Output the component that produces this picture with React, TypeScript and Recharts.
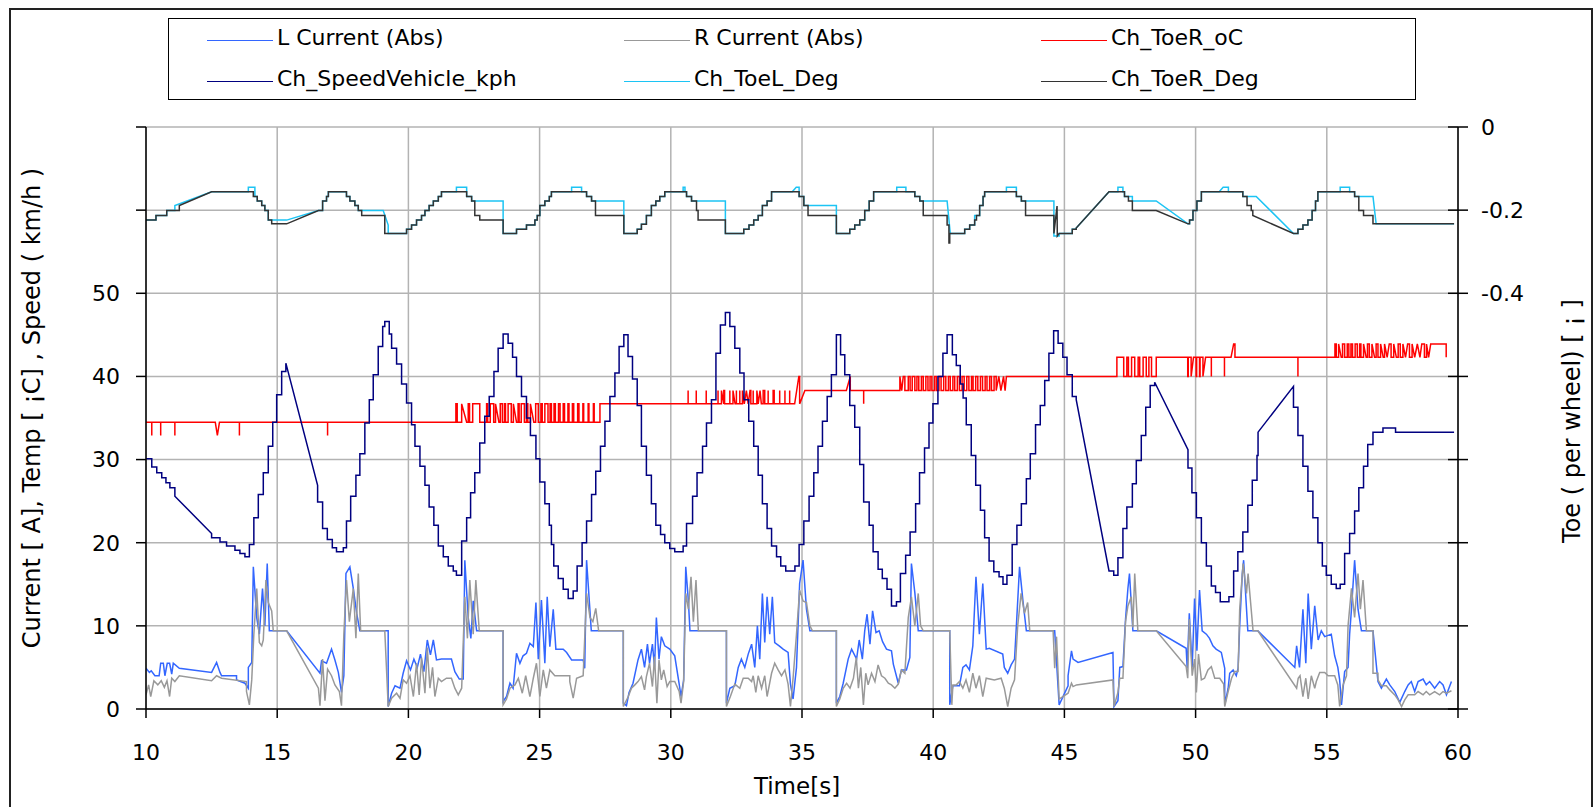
import React from 'react';
import { LineChart, Line, XAxis, YAxis, CartesianGrid, Legend } from 'recharts';

const FONT = "'DejaVu Sans', Verdana, sans-serif";

// axis ticks
const timeTicks = [10, 15, 20, 25, 30, 35, 40, 45, 50, 55, 60];
const leftTicks = [0, 10, 20, 30, 40, 50, 60, 70];
const rightTicks = [-1.4, -1.2, -1, -0.8, -0.6, -0.4, -0.2, 0];

// [t, value] = value steps at t ; [t, value, 1] = straight line up to (t, value)
const speedSteps = [
  [10.0, 30.1], [10.22, 29.1], [10.41, 28.4], [10.6, 27.8], [10.76, 27.2], [10.91, 26.6], [11.1, 25.6], [12.5, 21.1, 1],
  [12.5, 20.6], [12.82, 20.1], [13.07, 19.6], [13.39, 19.1], [13.58, 18.7], [13.77, 18.3], [13.94, 19.8], [14.11, 23.0],
  [14.28, 25.8], [14.47, 28.4], [14.66, 31.6], [14.83, 34.5], [14.98, 37.8], [15.17, 40.6], [15.33, 41.6], [16.54, 26.9, 1],
  [16.54, 24.9], [16.73, 21.7], [16.91, 20.4], [17.1, 19.4], [17.26, 18.9], [17.52, 19.4], [17.64, 22.6], [17.8, 25.6],
  [18.0, 28.1], [18.15, 30.7], [18.34, 34.4], [18.51, 37.2], [18.66, 40.2], [18.85, 43.6], [19.02, 46.0], [19.1, 46.6],
  [19.27, 45.1], [19.36, 43.4], [19.55, 41.5], [19.74, 39.1], [19.93, 36.8], [20.12, 34.2], [20.25, 31.6], [20.44, 29.2],
  [20.63, 26.9], [20.79, 24.3], [20.97, 22.1], [21.14, 19.6], [21.33, 18.3], [21.52, 17.2], [21.71, 16.6], [21.83, 16.1],
  [22.03, 20.2], [22.22, 23.0], [22.37, 26.0], [22.53, 28.4], [22.72, 32.0], [22.91, 35.2], [23.08, 37.6], [23.26, 40.6],
  [23.42, 43.4], [23.61, 45.1], [23.8, 44.0], [23.97, 42.3], [24.12, 40.0], [24.31, 37.6], [24.5, 35.0], [24.65, 32.9],
  [24.86, 30.1], [25.01, 27.3], [25.2, 24.7], [25.37, 22.1], [25.45, 19.8], [25.54, 17.2], [25.71, 15.7], [25.9, 14.4],
  [26.09, 13.3], [26.28, 14.2], [26.43, 17.2], [26.62, 20.0], [26.79, 22.6], [26.98, 25.8], [27.14, 28.6], [27.32, 31.6],
  [27.49, 34.6], [27.68, 37.6], [27.87, 40.4], [28.03, 43.6], [28.21, 45.0], [28.37, 42.4], [28.54, 39.7], [28.72, 36.5],
  [28.88, 31.6], [29.07, 28.1], [29.26, 24.7], [29.43, 22.1], [29.61, 21.0], [29.77, 20.0], [29.96, 19.3], [30.15, 18.9],
  [30.47, 19.6], [30.6, 22.3], [30.83, 25.6], [31.0, 28.4], [31.21, 31.6], [31.36, 34.4], [31.55, 37.2], [31.72, 42.8],
  [31.89, 46.2], [32.08, 47.7], [32.25, 46.0], [32.44, 43.4], [32.63, 40.4], [32.79, 37.2], [32.97, 34.6], [33.16, 31.6],
  [33.33, 28.1], [33.49, 24.7], [33.67, 21.7], [33.84, 19.6], [34.03, 18.3], [34.19, 17.2], [34.38, 16.6], [34.73, 17.2],
  [34.89, 19.8], [35.07, 22.6], [35.27, 25.6], [35.45, 28.4], [35.61, 31.6], [35.78, 34.6], [35.96, 37.6], [36.12, 40.2],
  [36.31, 45.0], [36.47, 42.6], [36.63, 40.2], [36.82, 36.5], [37.01, 33.9], [37.2, 29.4], [37.35, 24.9], [37.56, 22.1],
  [37.71, 18.9], [37.9, 16.8], [38.06, 15.7], [38.24, 14.4], [38.41, 12.4], [38.6, 12.9], [38.75, 16.3], [38.95, 18.5],
  [39.12, 21.3], [39.33, 24.7], [39.48, 28.4], [39.67, 31.4], [39.84, 34.4], [39.99, 36.7], [40.18, 40.0], [40.37, 42.8],
  [40.53, 45.0], [40.73, 42.6], [40.88, 41.3], [41.03, 39.1], [41.14, 37.4], [41.26, 34.2], [41.45, 30.5], [41.62, 26.9],
  [41.8, 23.9], [41.96, 20.6], [42.13, 17.8], [42.31, 16.5], [42.51, 15.9], [42.66, 15.0], [42.81, 16.1], [43.01, 19.8],
  [43.19, 22.1], [43.36, 24.7], [43.55, 27.7], [43.7, 30.7], [43.9, 34.2], [44.08, 36.5], [44.25, 39.5], [44.41, 42.8],
  [44.59, 45.5], [44.76, 44.0], [44.94, 42.3], [45.1, 40.2], [45.3, 37.6], [45.45, 37.2], [46.7, 16.6, 1], [46.88, 16.1],
  [47.04, 18.2], [47.23, 21.7], [47.38, 24.3], [47.59, 27.1], [47.74, 29.9], [47.93, 32.9], [48.1, 36.3], [48.27, 38.9],
  [48.44, 39.3], [49.71, 31.2, 1], [49.71, 29.0], [49.86, 26.0], [50.03, 23.0], [50.22, 20.0], [50.41, 17.2], [50.6, 14.8],
  [50.76, 14.0], [50.94, 12.9], [51.27, 13.5], [51.45, 16.6], [51.61, 18.9], [51.8, 21.3], [51.99, 24.5], [52.16, 27.5],
  [52.34, 30.5], [52.38, 33.3], [53.73, 38.8, 1], [53.73, 36.3], [53.9, 32.9], [54.09, 29.2], [54.28, 26.2], [54.47, 23.0],
  [54.66, 20.0], [54.83, 17.2], [54.98, 16.1], [55.17, 15.0], [55.36, 14.5], [55.51, 15.0], [55.68, 18.7], [55.87, 21.1],
  [56.06, 23.8], [56.22, 26.6], [56.4, 29.2], [56.56, 31.8], [56.76, 33.3], [57.14, 33.8], [57.62, 33.3], [59.85, 33.3],
];

const toeRSteps = [
  [10.0, -0.224], [10.38, -0.213], [10.79, -0.201], [11.27, -0.189], [12.5, -0.156, 1], [14.09, -0.167], [14.24, -0.178],
  [14.41, -0.189], [14.53, -0.201], [14.66, -0.224], [14.79, -0.233], [15.36, -0.233], [16.57, -0.201, 1], [16.73, -0.178],
  [16.88, -0.167], [16.95, -0.156], [17.64, -0.167], [17.77, -0.178], [17.96, -0.189], [18.09, -0.201], [18.22, -0.213],
  [19.1, -0.256], [19.93, -0.246], [20.12, -0.236], [20.31, -0.224], [20.5, -0.213], [20.63, -0.201], [20.79, -0.189],
  [20.95, -0.178], [21.14, -0.167], [21.26, -0.156], [22.22, -0.167], [22.41, -0.178], [22.53, -0.213], [22.72, -0.224],
  [23.61, -0.256], [24.12, -0.246], [24.5, -0.236], [24.82, -0.224], [24.91, -0.213], [25.01, -0.189], [25.2, -0.178],
  [25.37, -0.167], [25.45, -0.156], [26.79, -0.167], [26.98, -0.178], [27.13, -0.213], [28.21, -0.256], [28.72, -0.246],
  [28.88, -0.234], [29.07, -0.213], [29.26, -0.189], [29.43, -0.178], [29.58, -0.167], [29.77, -0.156], [30.6, -0.167],
  [30.79, -0.178], [30.98, -0.201], [31.04, -0.224], [32.08, -0.256], [32.78, -0.246], [32.98, -0.236], [33.16, -0.224],
  [33.33, -0.213], [33.49, -0.189], [33.67, -0.178], [33.84, -0.156], [34.89, -0.167], [35.07, -0.189], [35.23, -0.213],
  [36.31, -0.256], [36.82, -0.246], [37.01, -0.236], [37.2, -0.224], [37.39, -0.201], [37.56, -0.178], [37.73, -0.156],
  [39.3, -0.167], [39.49, -0.178], [39.62, -0.213], [40.53, -0.236], [40.6, -0.279], [40.63, -0.256], [41.2, -0.246],
  [41.39, -0.236], [41.58, -0.224], [41.65, -0.213], [41.77, -0.189], [41.9, -0.167], [41.96, -0.156], [43.17, -0.167],
  [43.36, -0.178], [43.52, -0.213], [44.6, -0.256], [44.72, -0.19, 1], [44.73, -0.262, 1], [44.8, -0.256, 1], [45.3, -0.246],
  [45.45, -0.243], [46.7, -0.156, 1], [47.29, -0.167], [47.44, -0.178], [47.59, -0.201], [48.5, -0.201], [49.71, -0.233, 1],
  [49.77, -0.224], [49.9, -0.201], [50.05, -0.178], [50.22, -0.156], [51.8, -0.167], [51.96, -0.189], [52.12, -0.201],
  [52.18, -0.213], [53.73, -0.256, 1], [53.9, -0.246], [54.09, -0.236], [54.28, -0.224], [54.44, -0.201], [54.57, -0.178],
  [54.66, -0.156], [56.06, -0.167], [56.22, -0.201], [56.4, -0.213], [56.76, -0.233], [59.85, -0.233],
];

const toeLSteps = [
  [10.0, -0.224], [10.38, -0.213], [10.79, -0.201], [11.1, -0.189], [12.5, -0.156, 1], [13.9, -0.145], [14.15, -0.167],
  [14.24, -0.178], [14.41, -0.189], [14.53, -0.201], [14.66, -0.224], [15.36, -0.224], [16.57, -0.201, 1], [16.73, -0.178],
  [16.88, -0.167], [16.95, -0.156], [17.64, -0.167], [17.77, -0.178], [17.96, -0.189], [18.09, -0.201], [19.04, -0.201],
  [19.23, -0.236, 1], [19.23, -0.256], [19.93, -0.246], [20.12, -0.236], [20.31, -0.224], [20.5, -0.213], [20.63, -0.201],
  [20.79, -0.189], [20.95, -0.178], [21.14, -0.167], [21.26, -0.156], [21.83, -0.145], [22.22, -0.167], [22.41, -0.178],
  [23.61, -0.256], [24.12, -0.246], [24.5, -0.236], [24.82, -0.224], [24.91, -0.213], [25.01, -0.189], [25.2, -0.178],
  [25.37, -0.167], [25.45, -0.156], [26.22, -0.145], [26.6, -0.156], [26.79, -0.167], [26.98, -0.178], [28.21, -0.256],
  [28.72, -0.246], [28.88, -0.234], [29.07, -0.213], [29.26, -0.189], [29.43, -0.178], [29.58, -0.167], [29.77, -0.156],
  [30.47, -0.145], [30.54, -0.156], [30.6, -0.167], [30.79, -0.178], [32.08, -0.256], [32.78, -0.246], [32.98, -0.236],
  [33.16, -0.224], [33.33, -0.213], [33.49, -0.189], [33.67, -0.178], [33.84, -0.156], [34.63, -0.156], [34.78, -0.145, 1],
  [34.89, -0.167], [35.07, -0.189], [36.31, -0.256], [36.82, -0.246], [37.01, -0.236], [37.2, -0.224], [37.39, -0.201],
  [37.56, -0.178], [37.73, -0.156], [38.61, -0.145], [38.96, -0.156], [39.3, -0.167], [39.49, -0.178], [40.53, -0.178],
  [40.65, -0.256, 1], [41.2, -0.246], [41.39, -0.236], [41.58, -0.213], [41.77, -0.189], [41.9, -0.167], [41.96, -0.156],
  [42.79, -0.145], [43.17, -0.167], [43.36, -0.178], [44.6, -0.262], [44.8, -0.256], [45.3, -0.246], [45.45, -0.243],
  [46.7, -0.156, 1], [47.04, -0.145], [47.23, -0.156], [47.29, -0.167], [47.59, -0.178], [48.5, -0.178], [49.71, -0.233, 1],
  [49.77, -0.224], [49.9, -0.201], [50.05, -0.178], [50.22, -0.156], [50.9, -0.156], [51.05, -0.145, 1], [51.25, -0.156],
  [51.8, -0.167], [52.31, -0.167], [53.73, -0.256, 1], [53.9, -0.246], [54.09, -0.236], [54.28, -0.224], [54.44, -0.201],
  [54.57, -0.178], [54.66, -0.156], [55.51, -0.145], [55.87, -0.156], [56.06, -0.167], [56.76, -0.167], [56.88, -0.233, 1],
  [59.85, -0.233],
];

const tempSteps = [
  [10.0, 34.5], [10.22, 32.9], [10.22, 34.5], [10.56, 32.9], [10.56, 34.5], [11.1, 32.9], [11.1, 34.5], [12.64, 34.5],
  [12.72, 32.9, 1], [12.8, 34.5, 1], [13.56, 32.9], [13.56, 34.5], [16.92, 32.9], [16.92, 34.5],
  [21.81, 36.7], [21.86, 34.5], [22.03, 36.7], [22.22, 34.5, 1], [22.28, 36.7], [22.33, 34.5], [22.45, 36.7], [22.72, 34.5],
  [22.98, 36.7], [23.02, 34.5], [23.12, 36.7], [23.25, 34.5], [23.32, 36.7], [23.45, 34.5, 1], [23.5, 36.7], [23.58, 34.5],
  [23.66, 36.7], [23.7, 34.5], [23.8, 36.7], [23.92, 34.5], [24.0, 36.7], [24.12, 34.5, 1], [24.18, 36.7], [24.22, 34.5],
  [24.3, 36.7], [24.42, 34.5], [24.5, 36.7], [24.55, 34.5], [24.65, 36.7], [24.78, 34.5, 1], [24.85, 36.7], [24.95, 34.5],
  [25.05, 36.7], [25.1, 34.5], [25.2, 36.7], [25.32, 34.5], [25.4, 36.7], [25.45, 34.5], [25.55, 36.7], [25.6, 34.5],
  [25.72, 36.7], [25.78, 34.5], [25.9, 36.7], [25.95, 34.5], [26.08, 36.7], [26.12, 34.5], [26.25, 36.7], [26.3, 34.5],
  [26.45, 36.7], [26.5, 34.5], [26.65, 36.7], [26.68, 34.5], [26.85, 36.7], [26.88, 34.5], [27.05, 36.7], [27.08, 34.5],
  [27.3, 36.7],
  [30.66, 38.3], [30.66, 36.7], [30.97, 38.3], [30.97, 36.7], [31.35, 38.3], [31.35, 36.7], [31.8, 38.3], [31.8, 36.7],
  [31.93, 38.3], [32.02, 36.7, 1], [32.02, 38.3], [32.05, 36.7], [32.25, 38.3], [32.25, 36.7], [32.37, 38.3], [32.45, 36.7, 1],
  [32.5, 38.3], [32.5, 36.7], [32.63, 38.3], [32.63, 36.7], [32.73, 38.3], [32.8, 36.7, 1], [32.88, 38.3, 1], [32.95, 36.7, 1],
  [33.02, 38.3, 1], [33.05, 36.7], [33.14, 38.3], [33.14, 36.7], [33.28, 38.3], [33.33, 36.7, 1], [33.4, 38.3, 1],
  [33.45, 36.7, 1], [33.52, 38.3], [33.58, 36.7], [33.71, 38.3], [33.71, 36.7], [33.9, 38.3], [33.94, 36.7], [34.15, 38.3],
  [34.15, 36.7], [34.35, 38.3], [34.35, 36.7], [34.53, 38.3], [34.53, 36.7], [34.72, 36.7], [34.88, 40.0, 1], [34.91, 36.7],
  [35.11, 38.3, 1],
  [36.69, 38.3], [36.84, 40.0, 1], [36.84, 38.3], [37.35, 36.7], [37.35, 38.3],
  [38.73, 40.0], [38.8, 38.3, 1], [38.86, 40.0, 1], [38.92, 38.3], [39.05, 40.0], [39.12, 38.3], [39.2, 40.0], [39.3, 38.3],
  [39.38, 40.0], [39.45, 38.3], [39.55, 40.0], [39.62, 38.3], [39.72, 40.0], [39.8, 38.3], [39.88, 40.0], [39.95, 38.3],
  [40.05, 40.0], [40.12, 38.3], [40.22, 40.0], [40.3, 38.3], [40.4, 40.0], [40.48, 38.3], [40.58, 40.0], [40.65, 38.3],
  [40.75, 40.0], [40.82, 38.3], [40.92, 40.0], [41.0, 38.3], [41.1, 40.0], [41.18, 38.3], [41.28, 40.0], [41.36, 38.3],
  [41.46, 40.0], [41.52, 38.3], [41.62, 40.0], [41.7, 38.3], [41.8, 40.0], [41.88, 38.3], [41.98, 40.0], [42.05, 38.3],
  [42.15, 40.0], [42.22, 38.3], [42.32, 40.0], [42.4, 38.3], [42.5, 40.0, 1], [42.58, 38.3, 1], [42.68, 40.0, 1],
  [42.74, 38.3, 1], [42.79, 40.0, 1],
  [47.0, 42.3], [47.26, 40.0], [47.38, 42.3], [47.44, 40.0], [47.56, 42.3], [47.68, 40.0], [47.81, 42.3], [47.87, 40.0],
  [48.0, 42.3], [48.12, 40.0], [48.22, 42.3], [48.32, 40.0], [48.5, 42.3],
  [49.7, 40.0], [49.72, 42.3], [49.83, 40.0], [49.92, 42.3, 1], [50.02, 40.0], [50.04, 42.3], [50.15, 40.0], [50.17, 42.3],
  [50.28, 40.0], [50.38, 42.3, 1], [50.6, 40.0], [50.6, 42.3], [51.1, 40.0], [51.1, 42.3], [51.35, 42.3], [51.45, 43.9, 1],
  [51.5, 42.3], [53.9, 40.0], [53.9, 42.3],
  [55.31, 43.9], [55.36, 42.3], [55.45, 43.9], [55.55, 42.3, 1], [55.6, 43.9], [55.68, 42.3], [55.78, 43.9], [55.84, 42.3],
  [55.92, 43.9], [55.98, 42.3], [56.08, 43.9], [56.16, 42.3], [56.25, 43.9], [56.3, 42.3], [56.4, 43.9], [56.5, 42.3, 1],
  [56.55, 43.9], [56.62, 42.3], [56.72, 43.9], [56.82, 42.3, 1], [56.88, 43.9], [56.95, 42.3], [57.05, 43.9], [57.15, 42.3, 1],
  [57.2, 43.9], [57.3, 42.3, 1], [57.38, 43.9, 1], [57.45, 42.3], [57.55, 43.9], [57.65, 42.3, 1], [57.72, 43.9], [57.8, 42.3],
  [57.9, 43.9], [58.0, 42.3, 1], [58.08, 43.9, 1], [58.15, 42.3], [58.25, 43.9], [58.35, 42.3, 1], [58.45, 43.9, 1],
  [58.55, 42.3, 1], [58.62, 43.9, 1], [58.72, 42.3], [58.8, 43.9], [58.88, 42.3, 1], [58.96, 43.9, 1], [59.55, 42.3],
];

// currents: vertices joined by straight lines
const curL = [
  [10.0, 4.9], [10.13, 4.4], [10.2, 4.6], [10.34, 4.0], [10.5, 4.0], [10.56, 5.5], [10.66, 5.5], [10.72, 4.0], [10.81, 5.5],
  [10.9, 5.5], [10.98, 4.2], [11.04, 5.5], [11.27, 4.9], [12.5, 4.4], [12.69, 5.6], [12.82, 4.4], [12.88, 4.0], [13.45, 4.0],
  [13.45, 3.5], [13.77, 3.1], [13.9, 2.5], [13.9, 5.0], [14.03, 5.6], [14.09, 17.1], [14.22, 11.0], [14.32, 9.0],
  [14.44, 14.5], [14.53, 10.0], [14.62, 17.5], [14.7, 9.4], [15.36, 9.4], [16.63, 4.3], [16.69, 5.8], [16.88, 5.5],
  [17.07, 7.2], [17.2, 5.9], [17.33, 4.4], [17.45, 2.0], [17.54, 4.0], [17.62, 16.3], [17.77, 17.1], [17.9, 14.5],
  [18.03, 11.5], [18.15, 9.4], [19.23, 9.4], [19.23, 0.3], [19.36, 1.9], [19.49, 2.8], [19.68, 2.5], [19.8, 4.3],
  [19.93, 5.8], [20.08, 4.7], [20.21, 6.0], [20.34, 5.0], [20.46, 6.6], [20.59, 4.5], [20.72, 8.3], [20.84, 6.5],
  [20.95, 8.3], [21.07, 5.9], [21.26, 6.0], [21.64, 6.0], [21.77, 4.5], [21.94, 3.6], [22.09, 3.6], [22.15, 17.9],
  [22.28, 11.0], [22.38, 8.5], [22.47, 13.0], [22.6, 9.4], [23.61, 9.4], [23.61, 0.9], [23.74, 1.5], [23.87, 3.1],
  [23.99, 2.5], [24.12, 6.7], [24.25, 5.5], [24.37, 6.4], [24.5, 6.7], [24.63, 7.9], [24.76, 7.5], [24.86, 12.8],
  [24.95, 6.0], [25.07, 13.1], [25.2, 5.5], [25.29, 13.5], [25.39, 7.5], [25.52, 12.0], [25.62, 7.2], [25.9, 7.2],
  [26.03, 6.8], [26.22, 5.9], [26.66, 5.9], [26.72, 4.9], [26.79, 17.9], [26.85, 15.1], [26.97, 9.4], [28.19, 9.4],
  [28.19, 0.7], [28.31, 0.4], [28.41, 2.0], [28.56, 3.1], [28.75, 5.9], [28.88, 7.2], [29.0, 5.0], [29.11, 7.8],
  [29.19, 5.5], [29.3, 7.8], [29.38, 5.1], [29.45, 11.0], [29.55, 6.0], [29.64, 8.7], [29.77, 7.6], [29.96, 7.2],
  [30.15, 6.4], [30.32, 3.0], [30.39, 1.5], [30.49, 3.5], [30.57, 17.1], [30.67, 13.0], [30.73, 9.4], [32.12, 9.4],
  [32.12, 0.7], [32.25, 2.5], [32.44, 2.8], [32.57, 5.0], [32.69, 6.0], [32.82, 5.0], [32.95, 6.6], [33.08, 7.8],
  [33.2, 5.0], [33.3, 10.0], [33.39, 6.0], [33.49, 13.9], [33.58, 8.0], [33.67, 13.5], [33.77, 9.0], [33.87, 13.5],
  [33.96, 8.0], [34.13, 7.6], [34.28, 7.2], [34.47, 6.8], [34.56, 3.0], [34.66, 1.2], [34.79, 5.0], [34.91, 15.1],
  [35.04, 17.9], [35.17, 12.0], [35.3, 9.4], [36.31, 9.4], [36.31, 0.7], [36.44, 1.5], [36.57, 3.1], [36.76, 6.0],
  [36.89, 7.2], [37.08, 6.0], [37.18, 8.3], [37.3, 6.0], [37.39, 9.4], [37.48, 11.4], [37.59, 7.8], [37.69, 11.8],
  [37.82, 9.2], [37.94, 9.4], [38.07, 8.1], [38.22, 7.2], [38.41, 7.0], [38.48, 5.4], [38.67, 3.1], [38.79, 4.7],
  [38.98, 4.7], [39.11, 6.2], [39.17, 17.5], [39.3, 14.0], [39.43, 9.4], [40.63, 9.4], [40.63, 0.5], [40.75, 2.8],
  [41.0, 2.8], [41.13, 5.0], [41.25, 5.3], [41.38, 4.7], [41.51, 7.6], [41.63, 15.9], [41.76, 9.0], [41.89, 15.1],
  [42.02, 7.2], [42.14, 7.3], [42.65, 6.6], [42.71, 5.0], [42.84, 4.3], [42.97, 5.3], [43.1, 6.0], [43.17, 10.0],
  [43.29, 17.1], [43.42, 13.0], [43.55, 9.4], [44.63, 9.4], [44.8, 0.5], [45.14, 2.8], [45.14, 4.0], [45.27, 7.0],
  [45.33, 6.0], [45.52, 5.6], [46.85, 6.8], [46.89, 0.3], [47.04, 1.0], [47.11, 5.0], [47.23, 5.1], [47.33, 10.8],
  [47.42, 14.5], [47.48, 16.3], [47.61, 9.4], [48.5, 9.4], [49.64, 7.3], [49.68, 4.9], [49.76, 11.5], [49.87, 5.0],
  [49.96, 13.3], [50.05, 7.0], [50.15, 14.3], [50.25, 9.4], [50.41, 9.0], [50.53, 8.5], [50.66, 7.6], [50.78, 7.2],
  [50.98, 6.8], [51.11, 4.9], [51.11, 0.5], [51.24, 2.5], [51.3, 4.3], [51.43, 4.7], [51.55, 4.0], [51.62, 4.9],
  [51.68, 10.0], [51.78, 16.3], [51.83, 17.9], [51.99, 9.4], [52.37, 9.4], [53.78, 5.0], [53.85, 7.6], [53.96, 5.0],
  [54.09, 12.0], [54.2, 5.5], [54.29, 13.9], [54.41, 7.2], [54.54, 12.4], [54.67, 8.3], [54.79, 9.4], [54.92, 8.7],
  [55.17, 9.0], [55.3, 6.4], [55.42, 5.0], [55.49, 3.5], [55.56, 0.5], [55.68, 4.5], [55.81, 5.0], [55.87, 9.0],
  [55.94, 12.0], [56.06, 17.9], [56.19, 12.0], [56.32, 9.4], [56.76, 9.4], [56.95, 3.3], [57.08, 2.5], [57.27, 3.6],
  [57.4, 2.9], [57.59, 2.1], [57.78, 0.8], [57.97, 2.1], [58.1, 2.9], [58.22, 3.3], [58.35, 2.1], [58.48, 3.3],
  [58.67, 3.6], [58.79, 2.9], [58.92, 3.3], [59.11, 2.5], [59.3, 3.3], [59.43, 2.9], [59.56, 1.7], [59.75, 3.3],
];

const curR = [
  [10.0, 1.7], [10.1, 2.9], [10.18, 1.5], [10.3, 3.4], [10.45, 2.9], [10.58, 3.4], [10.7, 2.6], [10.8, 3.4], [10.9, 1.5],
  [10.98, 3.7], [11.1, 3.3], [11.27, 4.0], [12.5, 3.4], [12.69, 4.0], [12.88, 3.7], [13.83, 3.3], [13.83, 2.1],
  [13.94, 0.5], [14.03, 3.5], [14.11, 9.0], [14.22, 14.5], [14.32, 8.0], [14.41, 7.6], [14.47, 8.3], [14.57, 15.5],
  [14.66, 12.8], [14.79, 11.8], [14.85, 9.4], [15.36, 9.4], [16.57, 2.5], [16.63, 0.4], [16.73, 6.0], [16.82, 1.0],
  [16.92, 4.8], [17.07, 4.0], [17.2, 2.9], [17.37, 2.1], [17.45, 0.4], [17.54, 9.0], [17.64, 15.5], [17.75, 10.5],
  [17.9, 14.5], [18.0, 8.5], [18.09, 16.3], [18.18, 9.4], [19.1, 9.4], [19.23, 0.3], [19.36, 1.3], [19.55, 1.9],
  [19.68, 1.3], [19.8, 3.5], [19.93, 3.1], [20.06, 4.0], [20.19, 1.5], [20.31, 5.5], [20.41, 1.7], [20.5, 6.2],
  [20.63, 1.9], [20.72, 7.4], [20.82, 2.5], [20.92, 5.0], [21.01, 1.5], [21.14, 3.7], [21.26, 3.3], [21.45, 3.7],
  [21.64, 3.7], [21.77, 2.5], [21.9, 1.7], [22.03, 2.5], [22.15, 13.5], [22.25, 8.5], [22.34, 15.5], [22.47, 9.0],
  [22.57, 15.5], [22.7, 9.4], [23.61, 9.4], [23.61, 0.5], [23.74, 1.2], [23.87, 2.5], [24.06, 2.9], [24.19, 3.7],
  [24.34, 1.9], [24.47, 4.0], [24.63, 1.5], [24.76, 3.7], [24.88, 5.5], [25.01, 1.5], [25.14, 4.7], [25.26, 2.5],
  [25.39, 4.7], [25.58, 4.0], [26.15, 4.0], [26.15, 3.3], [26.28, 1.3], [26.41, 3.7], [26.66, 4.0], [26.79, 13.9],
  [26.92, 11.0], [27.03, 10.5], [27.14, 12.1], [27.25, 9.4], [28.19, 9.4], [28.19, 0.3], [28.38, 1.5], [28.5, 2.5],
  [28.63, 2.9], [28.75, 3.3], [28.88, 3.9], [29.0, 2.3], [29.07, 3.9], [29.19, 5.5], [29.3, 2.7], [29.38, 6.3],
  [29.47, 0.7], [29.55, 5.9], [29.64, 3.5], [29.73, 4.7], [29.86, 2.7], [29.96, 3.3], [30.15, 3.3], [30.32, 2.1],
  [30.39, 0.7], [30.49, 3.3], [30.57, 13.9], [30.67, 12.0], [30.77, 15.9], [30.86, 10.5], [30.96, 15.5], [31.05, 9.4],
  [32.12, 9.4], [32.12, 0.3], [32.27, 1.5], [32.44, 3.0], [32.63, 2.5], [32.76, 3.7], [32.95, 3.7], [33.08, 3.3],
  [33.14, 4.0], [33.24, 2.0], [33.33, 4.0], [33.46, 2.5], [33.58, 4.0], [33.67, 1.5], [33.84, 4.3], [33.96, 5.5],
  [34.09, 4.7], [34.22, 4.0], [34.35, 4.7], [34.47, 3.0], [34.56, 0.3], [34.66, 3.7], [34.79, 9.0], [34.91, 14.3],
  [35.04, 13.0], [35.17, 12.8], [35.3, 10.0], [35.4, 9.4], [36.31, 9.4], [36.31, 0.3], [36.44, 1.2], [36.57, 2.5],
  [36.7, 3.1], [36.83, 2.5], [36.96, 3.7], [37.07, 6.2], [37.15, 2.5], [37.24, 5.0], [37.34, 0.5], [37.43, 4.3],
  [37.52, 2.9], [37.65, 4.3], [37.78, 3.3], [37.9, 5.3], [38.03, 4.0], [38.16, 3.7], [38.29, 3.1], [38.41, 2.9],
  [38.54, 2.5], [38.67, 3.0], [38.79, 4.7], [38.92, 4.3], [39.05, 11.0], [39.17, 13.5], [39.3, 10.0], [39.43, 13.9],
  [39.52, 10.0], [39.62, 9.4], [40.63, 9.4], [40.71, 0.5], [40.75, 2.9], [40.88, 2.9], [41.0, 3.3], [41.13, 2.5],
  [41.25, 3.5], [41.38, 2.0], [41.51, 4.3], [41.63, 2.5], [41.76, 4.0], [41.89, 1.5], [42.02, 3.7], [42.33, 3.5],
  [42.59, 3.7], [42.71, 2.5], [42.84, 0.3], [42.97, 2.5], [43.1, 3.5], [43.22, 10.0], [43.35, 13.9], [43.48, 11.5],
  [43.6, 12.8], [43.68, 9.4], [44.57, 9.4], [44.63, 4.9], [44.7, 8.7], [44.8, 1.2], [45.14, 1.9], [45.27, 3.1],
  [45.33, 2.7], [45.46, 2.9], [46.85, 3.5], [46.89, 0.3], [47.04, 2.0], [47.11, 3.7], [47.23, 3.7], [47.33, 10.5],
  [47.42, 12.4], [47.55, 13.5], [47.61, 9.8], [47.68, 16.3], [47.8, 9.4], [48.5, 9.4], [49.64, 5.1], [49.7, 3.7],
  [49.76, 10.8], [49.87, 4.0], [49.96, 6.0], [50.03, 2.0], [50.11, 6.6], [50.22, 3.5], [50.34, 3.7], [50.47, 4.7],
  [50.6, 5.1], [50.73, 3.7], [50.92, 3.7], [51.07, 3.0], [51.11, 0.3], [51.24, 2.1], [51.37, 3.7], [51.49, 4.5],
  [51.62, 4.5], [51.68, 12.0], [51.81, 17.5], [51.94, 13.9], [52.0, 16.3], [52.19, 9.4], [52.37, 9.4], [53.85, 2.5],
  [53.91, 3.7], [53.98, 4.0], [54.09, 1.5], [54.2, 3.7], [54.29, 1.2], [54.41, 4.0], [54.54, 2.5], [54.6, 3.3],
  [54.73, 4.4], [54.92, 4.4], [55.05, 4.0], [55.3, 4.0], [55.42, 2.9], [55.49, 0.3], [55.62, 2.9], [55.75, 4.0],
  [55.81, 10.0], [55.94, 14.5], [56.06, 11.0], [56.19, 16.3], [56.28, 12.0], [56.38, 15.5], [56.51, 9.4], [56.76, 9.4],
  [56.76, 4.3], [56.95, 4.3], [56.95, 3.5], [57.08, 2.8], [57.27, 2.8], [57.4, 2.3], [57.59, 1.7], [57.72, 1.1],
  [57.85, 0.3], [57.97, 1.1], [58.1, 1.7], [58.35, 1.7], [58.48, 2.1], [58.67, 1.7], [58.79, 2.1], [58.92, 1.7],
  [59.11, 2.1], [59.3, 1.7], [59.43, 2.1], [59.56, 1.9], [59.75, 2.2],
];

const stairs = (pts: number[][]) => {
  const out: { t: number; v: number }[] = [];
  pts.forEach((p, i) => {
    if (i > 0 && !p[2]) out.push({ t: p[0], v: pts[i - 1][1] });
    out.push({ t: p[0], v: p[1] });
  });
  return out;
};
const joined = (pts: number[][]) => pts.map(([t, v]) => ({ t, v }));

const series = [
  { name: 'L Current (Abs)', color: '#3366ff', axis: 'left', data: joined(curL) },
  { name: 'R Current (Abs)', color: '#999999', axis: 'left', data: joined(curR) },
  { name: 'Ch_ToeR_oC', color: '#ff0000', axis: 'left', data: stairs(tempSteps) },
  { name: 'Ch_SpeedVehicle_kph', color: '#000080', axis: 'left', data: stairs(speedSteps) },
  { name: 'Ch_ToeL_Deg', color: '#1cc4f4', axis: 'right', data: stairs(toeLSteps) },
  { name: 'Ch_ToeR_Deg', color: '#333333', axis: 'right', data: stairs(toeRSteps) },
];

const LegendBox = ({ payload }: any) => {
  const items = series.map((s) => (payload || []).find((p: any) => p.value === s.name) || { value: s.name, color: s.color });
  return (
    <div style={{ position: 'relative', width: 1248, height: 82, border: '1.5px solid #000', boxSizing: 'border-box', background: '#fff', fontFamily: FONT, fontSize: 22, color: '#000' }}>
      {items.map((p: any, i: number) => (
        <div key={p.value} style={{ position: 'absolute', left: 38 + (i % 3) * 417, top: 3 + Math.floor(i / 3) * 41, height: 30, display: 'flex', alignItems: 'center', whiteSpace: 'nowrap' }}>
          <span style={{ display: 'inline-block', position: 'relative', top: 3, width: 66, borderTop: `1.5px solid ${p.color}`, marginRight: 4 }} />
          <span>{p.value}</span>
        </div>
      ))}
    </div>
  );
};

const RightTick = ({ x, y, payload }: any) => {
  const v = payload.value;
  const label = v >= -0.41 ? String(Math.round(v * 10) / 10) : '';
  return (
    <g>
      <line x1={x - 33} x2={x - 13} y1={y} y2={y} stroke="#000" strokeWidth={1.5} />
      <text x={x} y={y} dy="0.36em" textAnchor="start" fontSize={22} fontFamily={FONT} fill="#000">{label}</text>
    </g>
  );
};

const AxisTitle = ({ x, y, angle, text, size }: any) => (
  <text x={x} y={y} textAnchor="middle" dominantBaseline="central" transform={angle ? `rotate(${angle}, ${x}, ${y})` : undefined} fontSize={size} fontFamily={FONT} fill="#000">
    {text}
  </text>
);

export default function App() {
  const tickStyle = { fontSize: 22, fontFamily: FONT, fill: '#000' };
  return (
    <div style={{ position: 'absolute', left: 0, top: 0, width: 1595, height: 807, background: '#fff', overflow: 'hidden' }}>
      <div style={{ position: 'absolute', left: 9, top: 8, width: 1584, height: 830, border: '2px solid #222', boxSizing: 'border-box' }} />
      <LineChart width={1595} height={807} margin={{ top: 127, right: 77, bottom: 58, left: 86 }}>
        <CartesianGrid yAxisId="left" stroke="#b3b3b3" strokeWidth={1.5} />
        <XAxis
          type="number"
          dataKey="t"
          domain={[10, 60]}
          ticks={timeTicks}
          allowDataOverflow
          height={40}
          tickSize={9}
          tickMargin={26}
          tick={tickStyle}
          axisLine={{ stroke: '#000', strokeWidth: 1.5 }}
          tickLine={{ stroke: '#000', strokeWidth: 1.5 }}
          label={{ content: () => <AxisTitle x={797} y={786} text="Time[s]" size={23} /> }}
        />
        <YAxis
          yAxisId="left"
          type="number"
          domain={[0, 70]}
          ticks={leftTicks}
          allowDataOverflow
          width={60}
          tickSize={10}
          tickMargin={16}
          tick={tickStyle}
          tickFormatter={(v: number) => (v <= 50 ? String(v) : '')}
          axisLine={{ stroke: '#000', strokeWidth: 1.5 }}
          tickLine={{ stroke: '#000', strokeWidth: 1.5 }}
          label={{ content: () => <AxisTitle x={32} y={408} angle={-90} text="Current [ A], Temp [ ¡C] , Speed ( km/h )" size={24} /> }}
        />
        <YAxis
          yAxisId="right"
          orientation="right"
          type="number"
          domain={[-1.4, 0]}
          ticks={rightTicks}
          allowDataOverflow
          width={60}
          tickSize={10}
          tickMargin={13}
          tick={<RightTick />}
          tickLine={false}
          axisLine={{ stroke: '#000', strokeWidth: 1.5 }}
          label={{ content: () => <AxisTitle x={1572} y={421} angle={-90} text="Toe ( per wheel) [ ¡ ]" size={24} /> }}
        />
        <Legend
          layout="horizontal"
          verticalAlign="middle"
          align="center"
          content={<LegendBox />}
          wrapperStyle={{ left: 168, top: 18, width: 1248, height: 82 }}
        />
        {series.map((s) => (
          <Line
            key={s.name}
            name={s.name}
            data={s.data}
            dataKey="v"
            yAxisId={s.axis}
            type="linear"
            stroke={s.color}
            strokeWidth={1.5}
            dot={false}
            activeDot={false}
            legendType="line"
            isAnimationActive={false}
          />
        ))}
      </LineChart>
    </div>
  );
}
